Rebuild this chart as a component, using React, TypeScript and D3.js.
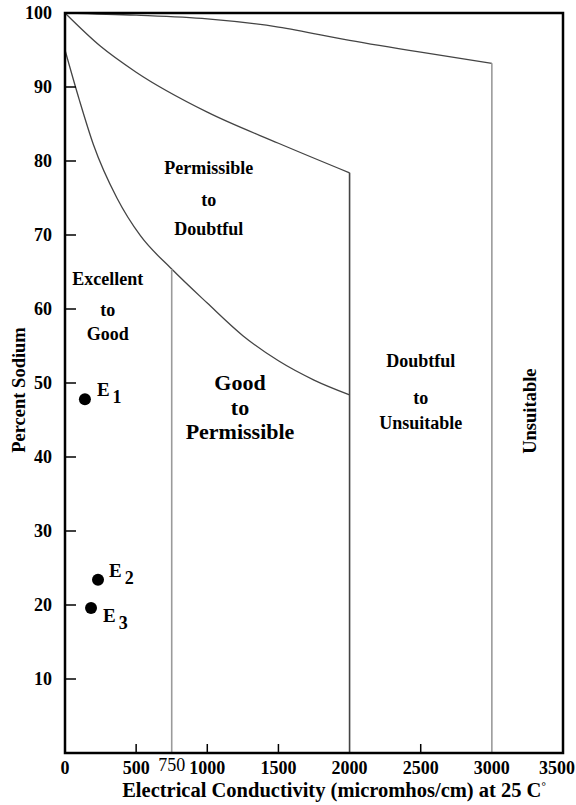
import * as d3 from "d3"

const W = 576
const H = 805
const FONT = "Liberation Serif, DejaVu Serif, Times New Roman, serif"

// x ticks on the axis
const xTickMarks = [500, 1000, 1500, 2500]
const xTickLabels = [0, 500, 750, 1000, 1500, 2000, 2500, 3000, 3500]
const yTicks = [10, 20, 30, 40, 50, 60, 70, 80, 90]
const yTickLabels = [10, 20, 30, 40, 50, 60, 70, 80, 90, 100]

// boundary curves [EC, %Na]
const topCurve: [number, number][] = [
  [0, 100], [500, 99.7], [1000, 99.2], [1500, 98.1], [2000, 96.3], [2500, 94.7], [3000, 93.2],
]
const midCurve: [number, number][] = [
  [0, 100], [250, 95.5], [500, 92], [1000, 86.6], [1500, 82.4], [2000, 78.4],
]
const lowCurve: [number, number][] = [
  [0, 95], [100, 88.3], [200, 82.2], [365, 75], [530, 69.9], [750, 65.4],
  [1000, 60.8], [1250, 56.4], [1500, 53], [1750, 50.4], [2000, 48.4],
]
// vertical class limits: [EC, top %Na, colour]
const verticals: [number, number, string][] = [
  [750, 65.4, "#9a9a9a"],
  [2000, 78.4, "#444"],
  [3000, 93.2, "#9a9a9a"],
]

// samples
const samples = [
  { id: "1", ec: 140, na: 47.8, dx: 12, dy: -3 },
  { id: "2", ec: 232, na: 23.4, dx: 11, dy: -3 },
  { id: "3", ec: 183, na: 19.6, dx: 12, dy: 14 },
]

// region labels [EC, %Na of first line]
const regions = [
  { ec: 1010, na: 78.3, lines: ["Permissible", "to", "Doubtful"], gaps: [0, 32, 61], size: 18 },
  { ec: 300, na: 63.2, lines: ["Excellent", "to", "Good"], gaps: [0, 31, 55], size: 18 },
  { ec: 1230, na: 49.0, lines: ["Good", "to", "Permissible"], gaps: [0, 25, 49], size: 22 },
  { ec: 2500, na: 52.2, lines: ["Doubtful", "to", "Unsuitable"], gaps: [0, 37, 62], size: 18 },
]

export default function App() {
  const x = d3.scaleLinear().domain([0, 3500]).range([65, 563])
  const y = d3.scaleLinear().domain([0, 100]).range([753, 13])
  const line = d3
    .line<[number, number]>()
    .x((d) => x(d[0]))
    .y((d) => y(d[1]))
    .curve(d3.curveMonotoneX)

  const [x0, x1] = x.range()
  const [y0, y1] = y.range()

  return (
    <svg
      width={W}
      height={H}
      style={{ position: "absolute", left: 0, top: 0, background: "#fff", fontFamily: FONT, fontWeight: "bold" }}
    >
      {[topCurve, midCurve, lowCurve].map((c, i) => (
        <path key={i} d={line(c) ?? ""} fill="none" stroke="#444" strokeWidth={1.3} />
      ))}
      {verticals.map(([ec, top, col]) => (
        <line key={ec} x1={x(ec)} x2={x(ec)} y1={y(top)} y2={y(0)} stroke={col} strokeWidth={1.6} />
      ))}

      {/* frame */}
      <rect x={x0} y={y1} width={x1 - x0} height={y0 - y1} fill="none" stroke="#000" strokeWidth={2.5} />
      {xTickMarks.map((t) => (
        <line key={t} x1={x(t)} x2={x(t)} y1={y0} y2={y0 - 9} stroke="#000" strokeWidth={1.5} />
      ))}
      {yTicks.map((t) => (
        <line key={t} x1={x0} x2={x0 + 11} y1={y(t)} y2={y(t)} stroke="#000" strokeWidth={1.5} />
      ))}

      {xTickLabels.map((t) => (
        <text
          key={t}
          x={t === 3500 ? 575 : x(t)}
          y={t === 750 ? 771 : 774}
          textAnchor={t === 3500 ? "end" : "middle"}
          fontSize={18}
          fontWeight={t === 750 ? "normal" : "bold"}
        >
          {t}
        </text>
      ))}
      {yTickLabels.map((t) => (
        <text key={t} x={52} y={y(t)} dy="0.35em" textAnchor="end" fontSize={18}>
          {t}
        </text>
      ))}

      <text x={334} y={797} textAnchor="middle" fontSize={20.5}>
        Electrical Conductivity (micromhos/cm) at 25 C
        <tspan dy={-7} fontSize={11}>°</tspan>
      </text>
      <text transform="translate(25,390) rotate(-90)" textAnchor="middle" fontSize={18.5}>
        Percent Sodium
      </text>
      <text transform={`translate(${x(3250) + 9},${y(46.2)}) rotate(-90)`} textAnchor="middle" fontSize={18.5}>
        Unsuitable
      </text>

      {regions.map((r, i) => (
        <text key={i} x={x(r.ec)} y={y(r.na)} textAnchor="middle" fontSize={r.size}>
          {r.lines.map((l, j) => (
            <tspan key={j} x={x(r.ec)} y={y(r.na) + r.gaps[j]}>
              {l}
            </tspan>
          ))}
        </text>
      ))}

      {samples.map((s) => (
        <g key={s.id} transform={`translate(${x(s.ec)},${y(s.na)})`}>
          <circle r={6} fill="#000" />
          <text x={s.dx} y={s.dy} fontSize={19}>
            E
            <tspan dx={3} dy={7} fontSize={18}>
              {s.id}
            </tspan>
          </text>
        </g>
      ))}
    </svg>
  )
}
